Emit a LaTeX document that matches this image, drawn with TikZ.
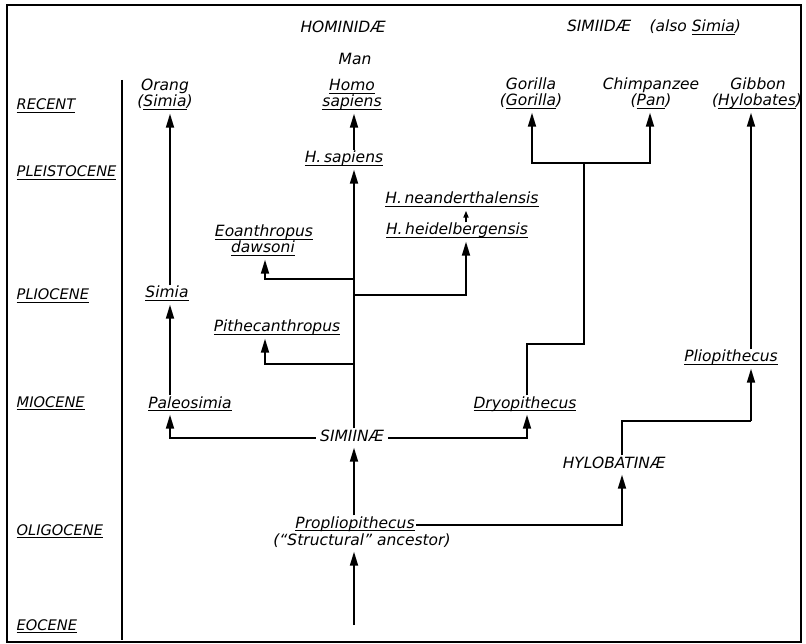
\documentclass[tikz,border=0pt]{standalone}
\usepackage{fontspec}
\setmainfont{DejaVu Sans}
\usetikzlibrary{arrows.meta}
\newcommand\undl[1]{\leavevmode\setbox0\hbox{#1}\rlap{\rule[-3pt]{\wd0}{1.2pt}}\box0}
\begin{document}
\begin{tikzpicture}[x=1pt,y=-1pt,
  lab/.style={font=\fontsize{15.5}{16}\selectfont\itshape, inner sep=1.5pt, text height=11pt, text depth=5pt, anchor=base},
  era/.style={lab, font=\fontsize{14.6}{16}\selectfont\itshape, anchor=base west},
  capsbox/.style={lab, inner xsep=4pt},
  ln/.style={line width=1.8pt},
  arr/.style={ln, -{Triangle[length=14pt,width=8pt]}},
  sarr/.style={ln, -{Triangle[length=7pt,width=5pt]}}]
\useasboundingbox (0,0) rectangle (806,644);
\fill[white] (0,0) rectangle (806,644);
% frame and separator
\draw[line width=1.8pt] (7,5) rectangle (801,642);
\draw[ln] (122,80) -- (122,640);
% era labels
\node[era] (recent) at (15,110) {\undl{RECENT}};
\node[era] (pleist) at (15,177) {\undl{PLEISTOCENE}};
\node[era] (plio)   at (15,300) {\undl{PLIOCENE}};
\node[era] (mio)    at (15,407) {\undl{MIOCENE}};
\node[era] (oligo)  at (15,535) {\undl{OLIGOCENE}};
\node[era] (eoc)    at (15,630) {\undl{EOCENE}};
% headers
\node[lab] (hom) at (343,33) {HOMINIDÆ};
\node[lab] (man) at (355,65) {Man};
\node[lab] (simi) at (654,32) {SIMIIDÆ\hspace{1.2em}(also \undl{Simia})};
% recent
\node[lab] (orangA) at (165,91) {Orang};
\node[lab] (orang)  at (165,107) {(\undl{Simia})};
\node[lab] (homoA)  at (352,91) {\undl{Homo}};
\node[lab] (homo)   at (352,107) {\undl{sapiens}};
\node[lab] (gorA)   at (531,90) {Gorilla};
\node[lab] (gor)    at (531,106) {(\undl{Gorilla})};
\node[lab] (chA)    at (651,90) {Chimpanzee};
\node[lab] (ch)     at (651,106) {(\undl{Pan})};
\node[lab] (gibA)   at (758,90) {Gibbon};
\node[lab] (gib)    at (757,106) {(\undl{Hylobates})};
% others
\node[lab] (hsap)  at (344,163) {\undl{H.\,sapiens}};
\node[lab] (nean)  at (462,204) {\undl{H.\,neanderthalensis}};
\node[lab] (heid)  at (457,235) {\undl{H.\,heidelbergensis}};
\node[lab] (eoanA) at (264,237) {\undl{Eoanthropus}};
\node[lab] (eoan)  at (263,253) {\undl{dawsoni}};
\node[lab] (simia) at (167,298) {\undl{Simia}};
\node[lab] (pith)  at (277,332) {\undl{Pithecanthropus}};
\node[lab] (pliop) at (731,362) {\undl{Pliopithecus}};
\node[lab] (paleo) at (190,408) {\undl{Paleosimia}};
\node[lab] (dryo)  at (525,408) {\undl{Dryopithecus}};
\node[capsbox] (siminae) at (352,441) {SIMIINÆ};
\node[capsbox] (hylo)  at (614,468) {HYLOBATINÆ};
\node[lab] (prop)  at (355,528) {\undl{Propliopithecus}};
\node[lab] (anc)   at (362,545) {(``Structural'' ancestor)};
% helper coordinates
\coordinate (xO) at (170,0);
\coordinate (xE) at (265,0);
\coordinate (trunk) at (354,0);
\coordinate (xH) at (466,0);
\coordinate (xD) at (527,0);
\coordinate (xG) at (532,0);
\coordinate (xC) at (650,0);
\coordinate (xY) at (622,0);
\coordinate (xP) at (751,0);
\coordinate (eocbot) at (354,625);
\coordinate (jE) at (354,279);
\coordinate (jH) at (354,295);
\coordinate (jP) at (354,364);
\coordinate (stepD) at (584,344);
\coordinate (split) at (584,163);
\coordinate (stepY) at (751,421);
% connectors
\draw[arr] (simia.north -| xO) -- (orang.south -| xO);
\draw[arr] (paleo.north -| xO) -- (simia.south -| xO);
\draw[arr] (siminae.west) -| (paleo.south -| xO);
\draw[arr] (siminae.east) -| (dryo.south -| xD);
\draw[arr] (eocbot) -- (anc.south -| trunk);
\draw[arr] (prop.north -| trunk) -- (siminae.south -| trunk);
\draw[arr] (siminae.north -| trunk) -- (hsap.south -| trunk);
\draw[arr] (hsap.north -| trunk) -- (homo.south -| trunk);
\draw[arr] (jE) -| (eoan.south -| xE);
\draw[arr] (jH) -| (heid.south -| xH);
\draw[arr] (jP) -| (pith.south -| xE);
\draw[sarr] (heid.north -| xH) -- (nean.south -| xH);
\draw[ln] (dryo.north -| xD) |- (stepD) -- (split);
\draw[arr] (split) -| (gor.south -| xG);
\draw[arr] (split) -| (ch.south -| xC);
\draw[arr] (prop.east) -| (hylo.south -| xY);
\draw[ln] (hylo.north -| xY) |- (stepY);
\draw[arr] (stepY) -- (pliop.south -| xP);
\draw[arr] (pliop.north -| xP) -- (gib.south -| xP);
\end{tikzpicture}
\end{document}
